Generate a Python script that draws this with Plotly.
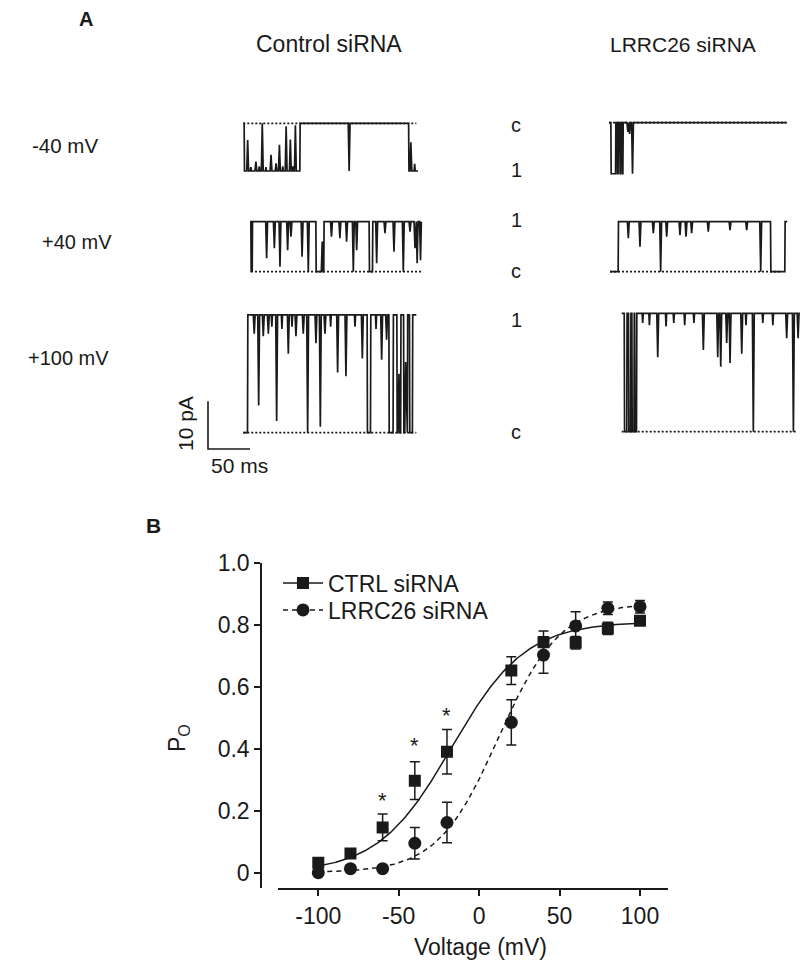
import math
import plotly.graph_objects as go

# ---------------- Panel B data ----------------
voltage = [-100, -80, -60, -40, -20, 20, 40, 60, 80, 100]
ctrl_po = [0.032, 0.062, 0.146, 0.297, 0.390, 0.652, 0.743, 0.742, 0.788, 0.813]
ctrl_err = [0.012, 0.012, 0.043, 0.061, 0.072, 0.045, 0.037, 0.020, 0.020, 0.012]
lrrc_po = [0.000, 0.013, 0.013, 0.095, 0.162, 0.485, 0.702, 0.796, 0.853, 0.858]
lrrc_err = [0.008, 0.010, 0.008, 0.051, 0.065, 0.073, 0.059, 0.046, 0.020, 0.020]
# Boltzmann fit parameters (Pmax, V50, k)
ctrl_fit = (0.81, -17.0, 23.0)
lrrc_fit = (0.87, 12.0, 19.0)
star_v = [-60, -40, -20]
star_po = [0.245, 0.423, 0.520]
x_ticks = [-100, -50, 0, 50, 100]
x_ticklabels = ["-100", "-50", "0", "50", "100"]
y_ticks = [0, 0.2, 0.4, 0.6, 0.8, 1.0]
y_ticklabels = ["0", "0.2", "0.4", "0.6", "0.8", "1.0"]

# ---------------- Panel A data (single-channel records) ----------------
# open intervals in ms, brief flickers (time ms, fraction of unitary amplitude)
t1_open = [(1.2, 67.5), (197, 208)]
t1_flick = [(5.2, 0.65), (9, 0.08), (15, 0.2), (19, 0.1), (22.6, 1.0), (27, 0.08), (33, 0.34),
            (39, 0.16), (43, 0.55), (47, 0.1), (51, 0.94), (56, 0.66), (59, 0.1), (62, 0.96),
            (126, 1.0), (199.5, 0.6), (204, 0.15)]
t2_open = [(2.4, 8.0), (9.8, 11.0), (13.0, 14.0), (15.8, 16.7)]
t2_flick = [(22.5, 0.18), (24.5, 0.22), (28, 1.0)]
t3_open = [(0, 1.2), (2.8, 78.6), (88, 142), (146, 204)]
t3_flick = [(19.8, 0.73), (29, 0.53), (35.7, 0.9), (44.8, 0.57), (48.8, 0.3), (62, 0.7),
            (69.4, 1.0), (86, 0.6), (97, 0.3), (107, 0.33), (115, 0.4), (123, 1.0),
            (127, 0.57), (150.8, 0.83), (160.7, 0.23), (171.4, 0.6), (182.5, 1.0),
            (190.5, 0.2), (196.4, 0.53), (199, 0.83), (203, 0.77)]
t4_open = [(9.9, 191.3), (208.3, 211)]
t4_flick = [(21.8, 0.33), (35.7, 0.5), (51.6, 0.23), (60.3, 1.0), (67.5, 0.3), (83.3, 0.27),
            (90.5, 0.3), (97.2, 0.23), (117, 0.2), (142.9, 0.17), (162.7, 0.17), (179.4, 1.0)]
t5_open = [(5.2, 147.6), (151.6, 173.5), (178.5, 183.0), (187.5, 191.0), (195.5, 198.0),
           (201.5, 206)]
t5_flick = [(13, 0.16), (18.3, 0.77), (23.8, 0.18), (29.8, 0.16), (34, 0.1), (39.7, 0.9),
            (46, 0.12), (53.6, 0.33), (58, 0.1), (62.7, 0.18), (71.4, 0.16), (76.6, 1.0),
            (86.5, 0.24), (91.7, 0.95), (97.2, 0.16), (104, 0.1), (112.3, 0.49), (122.2, 0.52),
            (133, 0.1), (141.7, 0.37), (158, 0.12), (164.7, 0.38), (170.6, 0.21),
            (185.3, 0.5), (193.3, 0.6)]
t6_open = [(0, 3.2), (6.2, 8.3), (10.8, 12.3), (14.8, 15.6), (17.8, 212.3)]
t6_flick = [(25, 0.08), (33, 0.1), (42.9, 0.37), (52.8, 0.11), (62, 0.08), (75, 0.1),
            (86, 0.08), (97.2, 0.31), (114.3, 0.37), (117.9, 0.45), (125, 0.25), (129, 0.42),
            (142.9, 0.34), (148, 0.1), (156.7, 1.0), (168, 0.08), (180, 0.1), (196.4, 0.21),
            (204.4, 1.0), (210, 0.21)]
# durations (ms), unitary amplitudes (pA)
durations = [208, 211.5, 204, 211, 206, 212.3]
amplitudes = [-10.0, -10.7, 10.5, 10.5, 24.7, 24.8]

# ---------------- layout constants (pixels of the 800x974 page) ----------------
W, H = 800, 974
PX_PER_MS = 0.84
PX_PER_PA = 4.77
trace_x0 = [243.3, 609, 250, 610, 243.3, 621.7]
trace_base = [123.3, 122.7, 271.7, 271.7, 432.7, 431.7]
dotted_span = [(0, 206), (0, 211.5), (6, 204), (0, 204), (0, 206), (0, 208)]

INK = "#1a1a1a"
FONT = "Liberation Sans, Arial, Helvetica, sans-serif"


def px(x):
    return x / W


def py(y):
    return 1 - y / H


def ax_x(x):  # page px -> panel-A ms coordinate
    return x / PX_PER_MS


def ax_y(y):  # page px -> panel-A pA coordinate
    return (H - y) / PX_PER_PA


def build(open_iv, flick, total, w=2.2):
    def lev(t):
        return 1 if any(a <= t < b for a, b in open_iv) else 0
    pts = [(0.0, 0, lev(0.0))]
    for a, b in open_iv:
        for edge in (a, b):
            if 0 < edge < total:
                pts.append((edge - 0.2, 1, lev(edge - 1e-6)))
                pts.append((edge + 0.2, 2, lev(edge + 1e-6)))
    for tf, d in flick:
        L = lev(tf)
        target = L + (1 - 2 * L) * d
        ww = w if d > 0.15 else 1.4
        pts.append((tf - ww / 2, 3, L))
        pts.append((tf, 4, target))
        pts.append((tf + ww / 2, 5, L))
    pts.append((total, 9, lev(total - 1e-6)))
    pts.sort(key=lambda p: (p[0], p[1]))
    return [p[0] for p in pts], [p[2] for p in pts]


fig = go.Figure()

records = [(t1_open, t1_flick), (t2_open, t2_flick), (t3_open, t3_flick),
           (t4_open, t4_flick), (t5_open, t5_flick), (t6_open, t6_flick)]
for i, (op, fl) in enumerate(records):
    ts, lv = build(op, fl, durations[i])
    x0 = ax_x(trace_x0[i])
    y0 = ax_y(trace_base[i])
    a, b = dotted_span[i]
    fig.add_trace(go.Scatter(x=[x0 + a, x0 + b], y=[y0, y0], mode="lines",
                             line=dict(color=INK, width=1.8, dash="2px,2px"),
                             showlegend=False, hoverinfo="skip", xaxis="x", yaxis="y"))
    fig.add_trace(go.Scatter(x=[x0 + t for t in ts], y=[y0 + l * amplitudes[i] for l in lv],
                             mode="lines", line=dict(color=INK, width=1.7),
                             showlegend=False, hoverinfo="skip", xaxis="x", yaxis="y"))

# scale bar: 10 pA, 50 ms
sb_x = ax_x(208)
sb_y = ax_y(449)
fig.add_trace(go.Scatter(x=[sb_x, sb_x, sb_x + 50], y=[sb_y + 10, sb_y, sb_y], mode="lines",
                         line=dict(color=INK, width=1.6), showlegend=False, hoverinfo="skip",
                         xaxis="x", yaxis="y"))

# ---------------- Panel B ----------------
def boltz(p, v):
    pmax, v50, k = p
    return pmax / (1 + math.exp(-(v - v50) / k))


vfit = [-100 + i for i in range(201)]
fig.add_trace(go.Scatter(x=vfit, y=[boltz(ctrl_fit, v) for v in vfit], mode="lines",
                         line=dict(color=INK, width=1.5), showlegend=False, hoverinfo="skip",
                         xaxis="x2", yaxis="y2"))
fig.add_trace(go.Scatter(x=vfit, y=[boltz(lrrc_fit, v) for v in vfit], mode="lines",
                         line=dict(color=INK, width=1.5, dash="5px,4px"), showlegend=False,
                         hoverinfo="skip", xaxis="x2", yaxis="y2"))
fig.add_trace(go.Scatter(x=voltage, y=lrrc_po, mode="markers",
                         marker=dict(symbol="circle", size=13, color=INK),
                         error_y=dict(type="data", array=lrrc_err, color=INK, thickness=1.5, width=5),
                         showlegend=False, xaxis="x2", yaxis="y2"))
fig.add_trace(go.Scatter(x=voltage, y=ctrl_po, mode="markers",
                         marker=dict(symbol="square", size=12, color=INK),
                         error_y=dict(type="data", array=ctrl_err, color=INK, thickness=1.5, width=5),
                         showlegend=False, xaxis="x2", yaxis="y2"))
# legend entries
fig.add_trace(go.Scatter(x=[None], y=[None], mode="lines+markers", name="CTRL siRNA",
                         line=dict(color=INK, width=1.5), marker=dict(symbol="square", size=12, color=INK),
                         xaxis="x2", yaxis="y2", legend="legend"))
fig.add_trace(go.Scatter(x=[None], y=[None], mode="lines+markers", name="LRRC26 siRNA",
                         line=dict(color=INK, width=1.5, dash="5px,4px"),
                         marker=dict(symbol="circle", size=13, color=INK),
                         xaxis="x2", yaxis="y2", legend="legend2"))

annotations = []
for v, p in zip(star_v, star_po):
    annotations.append(dict(x=v, y=p, xref="x2", yref="y2", text="*", showarrow=False,
                            font=dict(family=FONT, size=22, color=INK), yshift=-4))


def txt(x, y, s, size=22, bold=False, angle=0):
    annotations.append(dict(x=px(x), y=py(y), xref="paper", yref="paper", text=s,
                            showarrow=False, textangle=angle, xanchor="center", yanchor="middle",
                            font=dict(family=FONT, size=size, color=INK,
                                      weight="bold" if bold else "normal")))


txt(86, 19, "A", 20, bold=True)
txt(153, 525, "B", 21, bold=True)
txt(329, 44, "Control siRNA", 23)
txt(683, 44, "LRRC26 siRNA", 21)
txt(65, 146, "-40 mV", 20.5)
txt(77, 242, "+40 mV", 20)
txt(68, 358, "+100 mV", 20)
for yy, s in [(125, "c"), (170, "1"), (220, "1"), (271, "c"), (320, "1"), (432, "c")]:
    txt(516, yy, s, 20)
txt(185, 424, "10 pA", 21, angle=-90)
txt(239, 465, "50 ms", 21)
txt(178, 738, "P<sub>O</sub>", 23, angle=-90)
txt(480, 947, "Voltage (mV)", 23)

axis_common = dict(showgrid=False, zeroline=False, fixedrange=True)
leg_common = dict(xanchor="left", yanchor="middle", bgcolor="rgba(0,0,0,0)",
                  font=dict(family=FONT, size=23, color=INK), itemwidth=40, borderwidth=0)
fig.update_layout(
    width=W, height=H, margin=dict(l=0, r=0, t=0, b=0, pad=0, autoexpand=False),
    paper_bgcolor="white", plot_bgcolor="rgba(0,0,0,0)",
    xaxis=dict(domain=[0, 1], range=[ax_x(0), ax_x(W)], visible=False, **axis_common),
    yaxis=dict(domain=[0, 1], range=[ax_y(H), ax_y(0)], visible=False, **axis_common),
    xaxis2=dict(domain=[px(278), px(668)], range=[-125.05, 117.4], anchor="y2",
                showline=True, linecolor=INK, linewidth=1.5, ticks="outside", ticklen=6,
                tickwidth=1.5, tickcolor=INK, tickvals=x_ticks, ticktext=x_ticklabels,
                tickfont=dict(family=FONT, size=23, color=INK), **axis_common),
    yaxis2=dict(domain=[py(888.3), py(562.7)], range=[-0.0503, 1.0], anchor="free",
                position=px(261), showline=True, linecolor=INK, linewidth=1.5, ticks="outside",
                ticklen=6, tickwidth=1.5, tickcolor=INK, tickvals=y_ticks, ticktext=y_ticklabels,
                tickfont=dict(family=FONT, size=23, color=INK), **axis_common),
    legend=dict(x=px(278), y=py(583), **leg_common),
    legend2=dict(x=px(278), y=py(610), **leg_common),
    annotations=annotations,
)

# remove the default page margin so the figure sits at the window's top-left corner
fig.write_html("out.html", config={"displayModeBar": False},
               post_script="document.body.style.margin='0px';")
